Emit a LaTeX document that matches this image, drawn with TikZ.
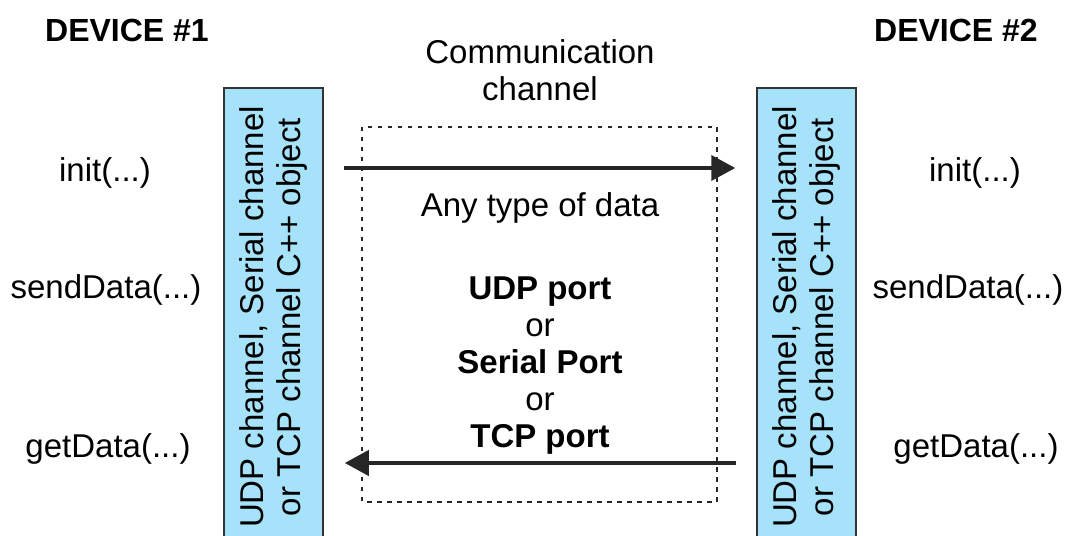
\documentclass[tikz,border=0pt]{standalone}
\usepackage{fontspec}
\setmainfont{Liberation Sans}
\usetikzlibrary{arrows.meta}

\begin{document}
\begin{tikzpicture}[x=1pt,y=1pt,
	every node/.style={font=\fontsize{33}{37}\selectfont, inner sep=0pt},
	devtitle/.style={font=\fontsize{32}{37}\selectfont\bfseries, anchor=base},
	chanbar/.style={draw=black!80, line width=1.5pt, fill=barcolor, rotate=90, align=center,
		minimum width=458pt, minimum height=99pt},
	flow/.style={line width=4pt, draw=black!85, -{Triangle[length=24pt,width=25pt]}},
	chanbox/.style={line width=2.5pt, dash pattern=on 4.5pt off 5.5pt, draw=black!85}]
			\colorlet{barcolor}{cyan!35!white}
			\useasboundingbox (0,0) rectangle (1072,536);
			
			\node[devtitle] (titleA) at (127,494) {DEVICE \#1};
			\node[devtitle] (titleB) at (956,494) {DEVICE \#2};
			\node[align=center] (chan) at (540,466) {Communication\\channel};
			
			\draw[chanbox] (362,409) rectangle (717,34);
			
			\node[chanbar] (barA) at (273.5,219) {UDP channel, Serial channel\\or TCP channel C++ object};
			\node[chanbar] (barB) at (806.5,219) {UDP channel, Serial channel\\or TCP channel C++ object};
			
			\node (initA) at (105,363) {init(...)};
			\node (sendA) at (106,246) {sendData(...)};
			\node (getA) at (108,87) {getData(...)};
			\node (initB) at (975,363) {init(...)};
			\node (sendB) at (968,246) {sendData(...)};
			\node (getB) at (976,87) {getData(...)};
			
			\node (anydata) at (540,328) {Any type of data};
			\node[align=center] (ports) at (540,170)
			{\textbf{UDP port}\\or\\\textbf{Serial Port}\\or\\\textbf{TCP port}};
			
			\coordinate[xshift=20pt] (outA) at (barA.south |- 0,368);
			\coordinate[xshift=-21pt] (inB) at (barB.north |- 0,368);
			\coordinate[xshift=-20pt] (outB) at (barB.north |- 0,73);
			\coordinate[xshift=21pt] (inA) at (barA.south |- 0,73);
			\draw[flow] (outA) -- (inB);
			\draw[flow] (outB) -- (inA);
		\end{tikzpicture}
\end{document}
